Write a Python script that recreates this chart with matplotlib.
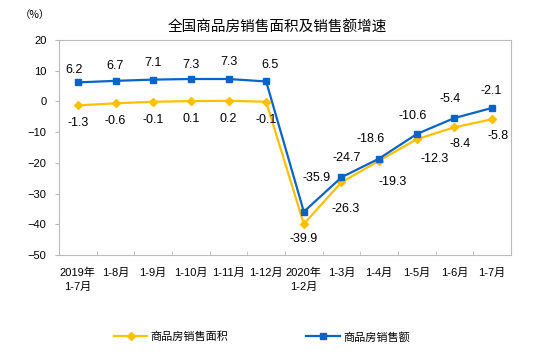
import matplotlib
matplotlib.use("Agg")
import matplotlib.pyplot as plt
import numpy as np

plt.rcParams['font.family'] = ['Liberation Sans', 'Noto Sans CJK SC', 'DejaVu Sans']

months = ['2019年\n1-7月', '1-8月', '1-9月', '1-10月', '1-11月', '1-12月',
          '2020年\n1-2月', '1-3月', '1-4月', '1-5月', '1-6月', '1-7月']
area = [-1.3, -0.6, -0.1, 0.1, 0.2, -0.1, -39.9, -26.3, -19.3, -12.3, -8.4, -5.8]
sales = [6.2, 6.7, 7.1, 7.3, 7.3, 6.5, -35.9, -24.7, -18.6, -10.6, -5.4, -2.1]

yellow = '#FFC000'
blue = '#0A64C8'

# label offsets in points (dx, dy)
area_off = [(0, -13)] * 6 + [(0, -11), (3, -19), (10, -15), (13, -14), (4, -12), (4, -12)]
sales_off = [(-3, 9), (0, 11), (0, 12), (0, 10), (0, 12), (3, 12),
             (9, 24), (4, 14), (-6, 14), (-3, 13), (-3, 14), (-1, 12)]

fig = plt.figure(figsize=(5.54, 3.58), dpi=100)
ax = fig.add_axes([59 / 554, 1 - 255 / 358, 452 / 554, 215 / 358])

x = np.arange(len(months))
ax.plot(x, area, color=yellow, lw=1.6, marker='D', ms=4.5, label='商品房销售面积')
ax.plot(x, sales, color=blue, lw=1.6, marker='s', ms=4.5, label='商品房销售额')

for i in range(len(x)):
    ax.annotate(f'{area[i]:.1f}', (x[i], area[i]), xytext=area_off[i],
                textcoords='offset points', ha='center', va='center', fontsize=9)
    ax.annotate(f'{sales[i]:.1f}', (x[i], sales[i]), xytext=sales_off[i],
                textcoords='offset points', ha='center', va='center', fontsize=9)

ax.set_xlim(-0.5, len(months) - 0.5)
ax.set_ylim(-50, 20)
ax.set_yticks(range(-50, 21, 10))
ax.set_xticks(x)
ax.set_xticklabels(months, fontsize=8, linespacing=1.5)
ax.set_xticks(np.arange(0.5, len(months) - 1, 1), minor=True)
ax.tick_params(axis='x', which='major', length=0, pad=9)
ax.tick_params(axis='x', which='minor', direction='in', length=3, color='#BBBBBB')
ax.tick_params(axis='y', length=3, color='#BBBBBB', labelsize=8, pad=6)
for s in ax.spines.values():
    s.set_color('#BBBBBB')

fig.text(0.5, 1 - 28 / 358, '全国商品房销售面积及销售额增速', ha='center', va='center',
         fontsize=10.5, fontweight='medium', family=['Noto Sans CJK SC'])
fig.text(35 / 554, 1 - 15 / 358, '（%）', ha='center', va='center', fontsize=7.5,
         family=['Noto Sans CJK SC'])

fig.legend(loc='center', bbox_to_anchor=(262 / 554, 1 - 337 / 358), ncol=2, frameon=False,
           fontsize=8, columnspacing=7, handlelength=3, handletextpad=0.3)

fig.savefig('out.png', dpi=100)
